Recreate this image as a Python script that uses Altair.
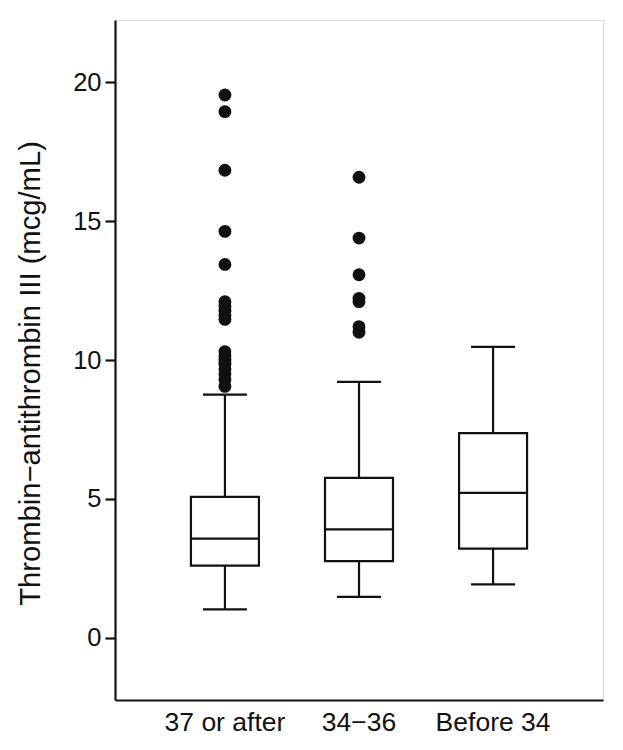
import altair as alt
import pandas as pd

categories = ["37 or after", "34\u221236", "Before 34"]
whisker_low = [1.02, 1.47, 1.92]
q1 = [2.60, 2.76, 3.21]
median = [3.57, 3.90, 5.22]
q3 = [5.07, 5.76, 7.37]
whisker_high = [8.75, 9.21, 10.47]

outliers_37 = [19.54, 18.94, 16.83, 14.63, 13.44, 12.10, 11.93, 11.76, 11.60, 11.46,
               10.30, 10.15, 10.00, 9.85, 9.68, 9.50, 9.30, 9.05]
outliers_34_36 = [16.58, 14.39, 13.07, 12.22, 12.10, 11.20, 11.00]
outliers_before34 = []

y_ticks = [0, 5, 10, 15, 20]

box_df = pd.DataFrame({
    "cat": categories, "lo": whisker_low, "q1": q1, "med": median,
    "q3": q3, "hi": whisker_high,
})
out_rows = ([(categories[0], v) for v in outliers_37]
            + [(categories[1], v) for v in outliers_34_36]
            + [(categories[2], v) for v in outliers_before34])
out_df = pd.DataFrame(out_rows, columns=["cat", "val"])

FONT = "Liberation Sans"
INK = "#111111"

xenc = alt.X("cat:N", sort=categories, title=None,
             scale=alt.Scale(paddingInner=0.5, paddingOuter=0.57),
             axis=alt.Axis(labelAngle=0, ticks=False, labelPadding=9,
                           labelFontSize=26.5, labelFont=FONT, labelColor=INK,
                           domainColor=INK, domainWidth=2.2))
yscale = alt.Scale(domain=[-2.24, 22.24], nice=False, zero=False)
yaxis = alt.Axis(values=y_ticks, grid=False, tickSize=10, tickWidth=2.2, tickColor=INK,
                 domainColor=INK, domainWidth=2.2, labelPadding=4,
                 labelFontSize=25.5, labelFont=FONT, labelColor=INK,
                 title="Thrombin\u2212antithrombin III (mcg/mL)",
                 titleFont=FONT, titleFontSize=29.2, titleFontWeight="normal",
                 titleColor=INK, titlePadding=27, titleY=353)

base = alt.Chart(box_df)

whisk = base.mark_rule(color=INK, strokeWidth=2.2).encode(
    x=xenc, y=alt.Y("lo:Q", scale=yscale, axis=yaxis), y2="hi:Q")
box = base.mark_bar(fill="white", stroke=INK, strokeWidth=2.2, size=68).encode(
    x=xenc, y=alt.Y("q1:Q", scale=yscale, axis=yaxis), y2="q3:Q")
med = base.mark_tick(color=INK, opacity=1, thickness=2.2, size=68, orient="horizontal").encode(
    x=xenc, y=alt.Y("med:Q", scale=yscale, axis=yaxis))
cap_lo = base.mark_tick(color=INK, opacity=1, thickness=2.2, size=44, orient="horizontal").encode(
    x=xenc, y=alt.Y("lo:Q", scale=yscale, axis=yaxis))
cap_hi = base.mark_tick(color=INK, opacity=1, thickness=2.2, size=44, orient="horizontal").encode(
    x=xenc, y=alt.Y("hi:Q", scale=yscale, axis=yaxis))
pts = alt.Chart(out_df).mark_circle(color=INK, opacity=1, size=165).encode(
    x=xenc, y=alt.Y("val:Q", scale=yscale, axis=yaxis))

chart = alt.layer(whisk, box, med, cap_lo, cap_hi, pts).properties(
    width=488, height=680,
    autosize=alt.AutoSizeParams(type="none"),
    padding={"left": 107, "top": 12, "right": 12, "bottom": 50},
).configure_view(stroke=None).configure(background="white")

chart.save("out.html", embed_options={"renderer": "svg", "actions": False})
